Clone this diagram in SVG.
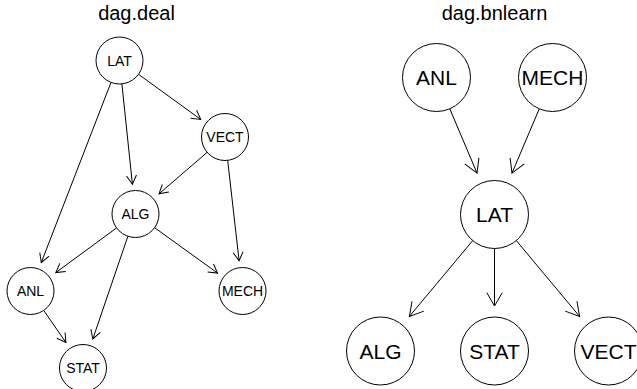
<svg xmlns="http://www.w3.org/2000/svg" width="637" height="389" viewBox="0 0 637 389">
  <style>
    .node circle { fill: #ffffff; stroke: #000000; stroke-width: 1; }
    .title { font-family: "Liberation Sans", Arial, sans-serif; font-size: 20px; text-anchor: middle; fill: #000000; }
    .small text { font-family: "Liberation Sans", Arial, sans-serif; font-size: 14px; text-anchor: middle; fill: #000000; }
    .big text { font-family: "Liberation Sans", Arial, sans-serif; font-size: 21px; text-anchor: middle; fill: #000000; }
    .edges line { stroke: #000000; stroke-width: 1; fill: none; }
    .edges-small line { marker-end: url(#arrowSmall); }
    .edges-big line { marker-end: url(#arrowBig); }
  </style>
  <defs>
    <marker id="arrowSmall" markerUnits="userSpaceOnUse" orient="auto" refX="0" refY="0" markerWidth="20" markerHeight="20" overflow="visible">
      <path d="M-8.7,-5 L0,0 L-8.7,5" fill="none" stroke="#000000" stroke-width="1"/>
    </marker>
    <marker id="arrowBig" markerUnits="userSpaceOnUse" orient="auto" refX="0" refY="0" markerWidth="30" markerHeight="30" overflow="visible">
      <path d="M-13.3,-7.7 L0,0 L-13.3,7.7" fill="none" stroke="#000000" stroke-width="1"/>
    </marker>
  </defs>
  <rect width="637" height="389" fill="#ffffff"/>

  <!-- panel titles -->
  <text class="title" x="136.5" y="20">dag.deal</text>
  <text class="title" x="494.5" y="20">dag.bnlearn</text>

  <!-- dag.deal connectors -->
  <g id="edges-deal" class="edges edges-small">
    <line x1="138.5" y1="74.3" x2="200.7" y2="119.4"/>
    <line x1="121.9" y1="83.9" x2="132.4" y2="184.2"/>
    <line x1="111.0" y1="82.4" x2="41.3" y2="262.5"/>
    <line x1="207.2" y1="152.3" x2="159.0" y2="193.8"/>
    <line x1="227.7" y1="160.4" x2="239.1" y2="260.8"/>
    <line x1="116.6" y1="227.9" x2="55.8" y2="272.6"/>
    <line x1="154.6" y1="227.7" x2="217.6" y2="273.1"/>
    <line x1="127.9" y1="236.2" x2="92.8" y2="339.0"/>
    <line x1="43.7" y1="310.4" x2="65.9" y2="342.5"/>
  </g>

  <!-- dag.deal nodes -->
  <g class="small">
    <g id="deal-LAT" class="node"><circle cx="119.5" cy="60.5" r="23.5"/><text x="119.5" y="65.5">LAT</text></g>
    <g id="deal-VECT" class="node"><circle cx="225" cy="137" r="23.5"/><text x="225" y="142">VECT</text></g>
    <g id="deal-ALG" class="node"><circle cx="135.5" cy="214" r="23.5"/><text x="135.5" y="219">ALG</text></g>
    <g id="deal-ANL" class="node"><circle cx="30.5" cy="291" r="23.5"/><text x="30.5" y="296">ANL</text></g>
    <g id="deal-MECH" class="node"><circle cx="242.5" cy="291" r="23.5"/><text x="242.5" y="296">MECH</text></g>
    <g id="deal-STAT" class="node"><circle cx="83" cy="368" r="23.5"/><text x="83" y="373">STAT</text></g>
  </g>

  <!-- dag.bnlearn connectors -->
  <g id="edges-bnlearn" class="edges edges-big">
    <line x1="449.8" y1="108.8" x2="477.0" y2="173.1"/>
    <line x1="539.3" y1="108.8" x2="512.0" y2="173.1"/>
    <line x1="472.7" y1="240.6" x2="409.4" y2="316.4"/>
    <line x1="494.5" y1="248.5" x2="494.5" y2="306"/>
    <line x1="516.3" y1="240.6" x2="579.6" y2="316.4"/>
  </g>

  <!-- dag.bnlearn nodes -->
  <g class="big">
    <g id="bn-ANL" class="node"><circle cx="436.5" cy="77.5" r="34"/><text x="436.5" y="85">ANL</text></g>
    <g id="bn-MECH" class="node"><circle cx="552.5" cy="77.5" r="34"/><text x="552.5" y="85">MECH</text></g>
    <g id="bn-LAT" class="node"><circle cx="494.5" cy="214.5" r="34"/><text x="494.5" y="222">LAT</text></g>
    <g id="bn-ALG" class="node"><circle cx="380.5" cy="351" r="34"/><text x="380.5" y="358.5">ALG</text></g>
    <g id="bn-STAT" class="node"><circle cx="494.5" cy="351" r="34"/><text x="494.5" y="358.5">STAT</text></g>
    <g id="bn-VECT" class="node"><circle cx="608.5" cy="351" r="34"/><text x="608.5" y="358.5">VECT</text></g>
  </g>
</svg>
